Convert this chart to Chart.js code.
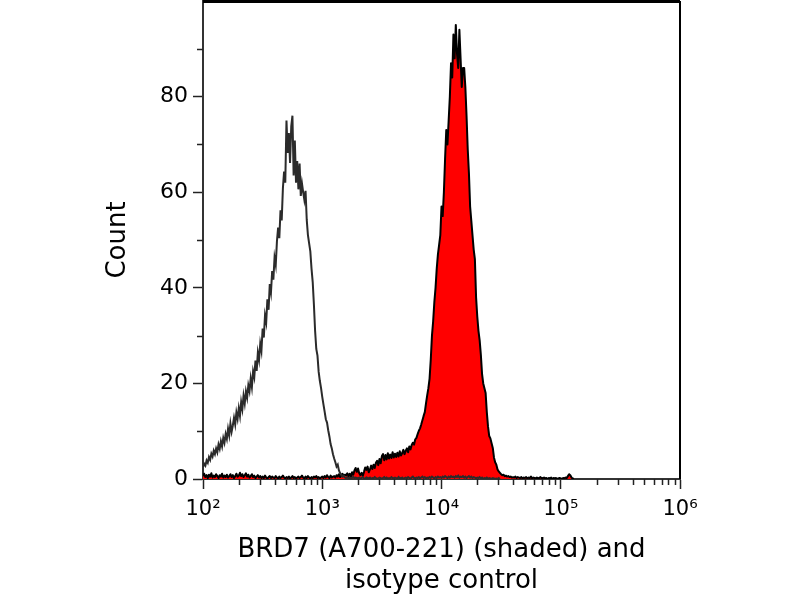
<!DOCTYPE html>
<html>
<head>
<meta charset="utf-8">
<title>BRD7 flow histogram</title>
<script src="https://cdn.jsdelivr.net/npm/chart.js@4.4.1/dist/chart.umd.min.js"></script>
<style>
  html, body { margin: 0; padding: 0; background: #fff; }
  #wrap { width: 800px; height: 600px; position: relative; }
</style>
</head>
<body>
<div id="wrap"><canvas id="histChart"></canvas></div>
<script>
// histogram channels: log10 of the first channel and the width of one channel
const logStart = 2.0;
const logStep = 0.01;

// isotype control (open dark line), one value per channel from 10^2.00
const isotypeCounts = [
  2.5, 3.2, 2.8, 3.9, 3.4, 4.6, 4.0, 5.3, 4.7, 5.9,
  5.2, 6.4, 5.6, 7.2, 6.3, 7.9, 6.8, 8.6, 7.6, 9.4,
  8.4, 10.5, 9.1, 11.6, 9.9, 11.2, 12.8, 11.4, 13.9, 12.6,
  14.8, 13.2, 16.1, 14.6, 17.4, 15.8, 18.3, 17.0, 19.6, 18.4,
  21.0, 19.2, 22.5, 21.3, 24.8, 22.6, 26.4, 24.9, 28.3, 26.8,
  31.5, 29.6, 34.2, 32.8, 37.6, 35.4, 40.8, 39.1, 43.5, 41.7,
  46.3, 44.8, 49.7, 52.6, 50.4, 56.2, 54.1, 60.8, 64.3, 62.0,
  75.0, 68.2, 72.4, 66.1, 73.8, 76.0, 63.5, 70.8, 62.0, 66.5,
  60.6, 66.0, 59.2, 61.8, 60.0, 58.4, 60.3, 54.2, 51.0, 49.3,
  47.6, 44.0, 41.2, 36.5, 31.0, 27.2, 25.8, 22.4, 20.5, 19.0,
  17.2, 15.6, 14.1, 12.5, 11.8, 10.2, 8.9, 7.3, 6.4, 5.2,
  4.3, 3.5, 2.6, 3.0, 1.8, 1.2, 0.9, 0.5, 0.7, 0.3,
  0.2, 0.4, 0.1, 0.3, 0, 0.2, 0.5, 0.1, 0.3, 0.2,
  0.1, 0.3, 0, 0.2, 0.4, 0.1, 0, 0.3, 0.2, 0.1,
  0.3, 0, 0.2, 0.1, 0.4, 0.2, 0, 0.1, 0.3, 0.2,
  0, 0.2, 0.4, 0.1, 0.3, 0, 0.2, 0.1, 0.4, 0.2,
  0.1, 0.3, 0.2, 0, 0.4, 0.2, 0.1, 0.3, 0, 0.2,
  0.3, 0.1, 0.4, 0.2, 0, 0.3, 0.5, 0.2, 0.1, 0.3,
  0.2, 0.4, 0.1, 0.3, 0.5, 0.2, 0.4, 0.1, 0.3, 0.2,
  0.4, 0.2, 0.5, 0.3, 0.1, 0.4, 0.2, 0.5, 0.3, 0.4,
  0.2, 0.5, 0.3, 0.6, 0.4, 0.2, 0.5, 0.3, 0.6, 0.4,
  0.5, 0.3, 0.6, 0.4, 0.7, 0.3, 0.5, 0.4, 0.6, 0.3,
  0.5, 0.2, 0.4, 0.6, 0.3, 0.5, 0.2, 0.4, 0.3, 0.1,
  0.3, 0.2, 0.4, 0.1, 0.3, 0, 0.2, 0.1, 0.3, 0,
  0.2, 0.1, 0, 0.2, 0.1, 0, 0.1, 0, 0.2, 0
];

// BRD7 (A700-221) stained sample (red shaded), one value per channel from 10^2.00
const brd7Counts = [
  0.6, 1.1, 0.4, 0.8, 0.2, 0.9, 0.5, 1.2, 0.3, 0.7,
  0.4, 1.0, 0.6, 0.2, 0.8, 0.5, 1.1, 0.3, 0.7, 0.4,
  0.9, 0.3, 0.6, 1.0, 0.4, 0.8, 0.2, 0.6, 1.1, 0.5,
  0.7, 1.3, 0.6, 1.0, 0.4, 0.8, 1.2, 0.5, 0.9, 0.3,
  0.6, 1.0, 0.4, 0.7, 0.2, 0.5, 0.8, 0.3, 0.6, 0.2,
  0.5, 0.2, 0.7, 0.3, 0.1, 0.4, 0.6, 0.2, 0.5, 0.3,
  0.2, 0.6, 0.3, 0.1, 0.5, 0.2, 0.4, 0.7, 0.3, 0.1,
  0.4, 0.2, 0.5, 0.1, 0.3, 0.6, 0.2, 0.4, 0.1, 0.3,
  0.5, 0.2, 0.4, 0.7, 0.3, 0.1, 0.5, 0.2, 0.6, 0.3,
  0.1, 0.4, 0.2, 0.5, 0.3, 0.6, 0.2, 0.4, 0.1, 0.3,
  0.5, 0.2, 0.6, 0.3, 0.8, 0.4, 0.2, 0.7, 0.3, 0.5,
  0.6, 0.3, 0.8, 0.5, 1.0, 0.4, 0.7, 1.1, 0.6, 0.9,
  0.8, 1.2, 0.6, 1.1, 0.5, 1.4, 0.9, 1.8, 2.3, 1.5,
  2.2, 1.2, 0.8, 1.3, 0.7, 1.5, 2.4, 1.9, 2.6, 1.4,
  2.0, 2.8, 2.1, 3.0, 2.3, 3.4, 3.8, 2.9, 4.2, 3.3,
  4.8, 5.2, 3.9, 5.0, 4.1, 5.4, 4.3, 5.1, 4.4, 5.6,
  4.5, 5.3, 4.6, 5.5, 4.7, 5.8, 4.9, 5.4, 6.1, 5.2,
  5.9, 6.4, 5.6, 6.8, 6.2, 7.1, 7.6, 7.2, 8.3, 8.6,
  9.4, 10.1, 10.6, 11.4, 12.3, 13.2, 14.0, 15.8, 17.5, 19.0,
  21, 25, 30, 33, 37, 40, 44, 47, 49, 51,
  57, 55, 60, 67, 73, 70, 75, 80, 87, 84,
  93, 88, 95, 89, 86, 94, 88, 82, 86, 86,
  82, 76, 69, 64, 57, 54, 51, 48, 46, 38,
  34, 31, 29, 26, 22, 20, 19, 18, 14, 11,
  9, 8.5, 7.5, 6.5, 4.5, 3.5, 3, 2, 1.6, 1.3,
  1.0, 0.8, 0.9, 0.6, 0.7, 0.5, 0.6, 0.4, 0.5, 0.3,
  0.4, 0.3, 0.5, 0.2, 0.4, 0.3, 0.2, 0.4, 0.1, 0.3,
  0.2, 0.4, 0.1, 0.3, 0.2, 0.5, 0.1, 0.3, 0.2, 0.1,
  0.3, 0.1, 0.2, 0.4, 0.1, 0.2, 0.3, 0.1, 0.2, 0,
  0.2, 0.1, 0.3, 0, 0.2, 0.1, 0.2, 0, 0.1, 0.2,
  0.1, 0, 0.2, 0.1, 0.3, 0.2, 0.6, 1.0, 0.8, 0.3,
  0.1, 0
];

const xMajorTicks = [1e2, 1e3, 1e4, 1e5, 1e6];
const xMinorSteps = [2, 3, 4, 5, 6, 7, 8, 9];
const yMajorTicks = [0, 20, 40, 60, 80];
const yMinorTicks = [10, 30, 50, 70, 90];
const xTitle = ['BRD7 (A700-221) (shaded) and', 'isotype control'];
const yTitle = 'Count';

const superDigits = { '2': '\u00b2', '3': '\u00b3', '4': '\u2074', '5': '\u2075', '6': '\u2076' };

function toPoints(counts) {
  return counts.map((v, i) => ({ x: Math.pow(10, logStart + i * logStep), y: v }));
}

// minor ticks + the closed top/right frame of the plot box
const frameTicks = {
  id: 'frameTicks',
  afterDraw(chart) {
    const { ctx, chartArea: a, scales: { x, y } } = chart;
    ctx.save();
    ctx.strokeStyle = '#222';
    ctx.lineWidth = 1.5;
    ctx.beginPath();
    for (let d = 0; d < xMajorTicks.length - 1; d++) {
      xMinorSteps.forEach(m => {
        const px = Math.round(x.getPixelForValue(xMajorTicks[d] * m)) + 0.5;
        ctx.moveTo(px, a.bottom);
        ctx.lineTo(px, a.bottom + 6);
      });
    }
    yMinorTicks.forEach(v => {
      const py = Math.round(y.getPixelForValue(v)) + 0.5;
      ctx.moveTo(a.left, py);
      ctx.lineTo(a.left - 6, py);
    });
    ctx.stroke();

    ctx.strokeStyle = '#000';
    ctx.lineWidth = 3;
    ctx.beginPath();
    ctx.moveTo(a.left, a.top + 0.5);
    ctx.lineTo(a.right, a.top + 0.5);
    ctx.stroke();
    ctx.lineWidth = 2;
    ctx.beginPath();
    ctx.moveTo(a.right, a.top);
    ctx.lineTo(a.right, a.bottom);
    ctx.stroke();
    ctx.restore();
  }
};

const ctx = document.getElementById('histChart').getContext('2d');
const histChart = new Chart(ctx, {
  type: 'line',
  data: {
    datasets: [{
      label: 'isotype control',
      data: toPoints(isotypeCounts),
      borderColor: '#2b2b2b',
      borderWidth: 2,
      fill: false,
      pointRadius: 0,
      tension: 0,
      order: 0
    }, {
      label: 'BRD7 (A700-221)',
      data: toPoints(brd7Counts),
      borderColor: '#000000',
      backgroundColor: '#ff0000',
      borderWidth: 2,
      borderJoinStyle: 'round',
      fill: 'origin',
      pointRadius: 0,
      tension: 0,
      order: 1
    }]
  },
  options: {
    responsive: true,
    maintainAspectRatio: false,
    animation: false,
    layout: { padding: { top: 1, right: 120, left: 0, bottom: 0 } },
    plugins: {
      legend: { display: false },
      tooltip: { enabled: false }
    },
    scales: {
      x: {
        type: 'logarithmic',
        min: 1e2,
        max: 1e6,
        afterBuildTicks: scale => { scale.ticks = xMajorTicks.map(v => ({ value: v })); },
        afterFit: scale => { scale.height = 121; scale.paddingLeft = 0; scale.paddingRight = 0; },
        border: { color: '#333', width: 2 },
        grid: { drawOnChartArea: false, tickLength: 10, tickColor: '#222', tickWidth: 1.5 },
        ticks: {
          autoSkip: false,
          maxRotation: 0,
          padding: 8,
          color: '#000',
          font: { family: 'DejaVu Sans', size: 21 },
          callback: value => '10' + superDigits[String(Math.round(Math.log10(value)))]
        },
        title: {
          display: true,
          text: xTitle,
          color: '#000',
          font: { family: 'DejaVu Sans', size: 26, lineHeight: 1.2 },
          padding: { top: 0, bottom: 3 }
        }
      },
      y: {
        type: 'linear',
        min: 0,
        max: 100,
        afterBuildTicks: scale => { scale.ticks = yMajorTicks.map(v => ({ value: v })); },
        afterFit: scale => { scale.width = 203; scale.paddingTop = 0; scale.paddingBottom = 0; },
        border: { color: '#333', width: 2 },
        grid: { drawOnChartArea: false, tickLength: 10, tickColor: '#222', tickWidth: 1.5 },
        ticks: {
          padding: 5,
          color: '#000',
          font: { family: 'DejaVu Sans', size: 22 }
        },
        title: {
          display: true,
          text: yTitle,
          color: '#000',
          font: { family: 'DejaVu Sans', size: 26, lineHeight: 1.2 },
          padding: { top: 103, bottom: 0 }
        }
      }
    }
  },
  plugins: [frameTicks]
});
</script>
</body>
</html>
